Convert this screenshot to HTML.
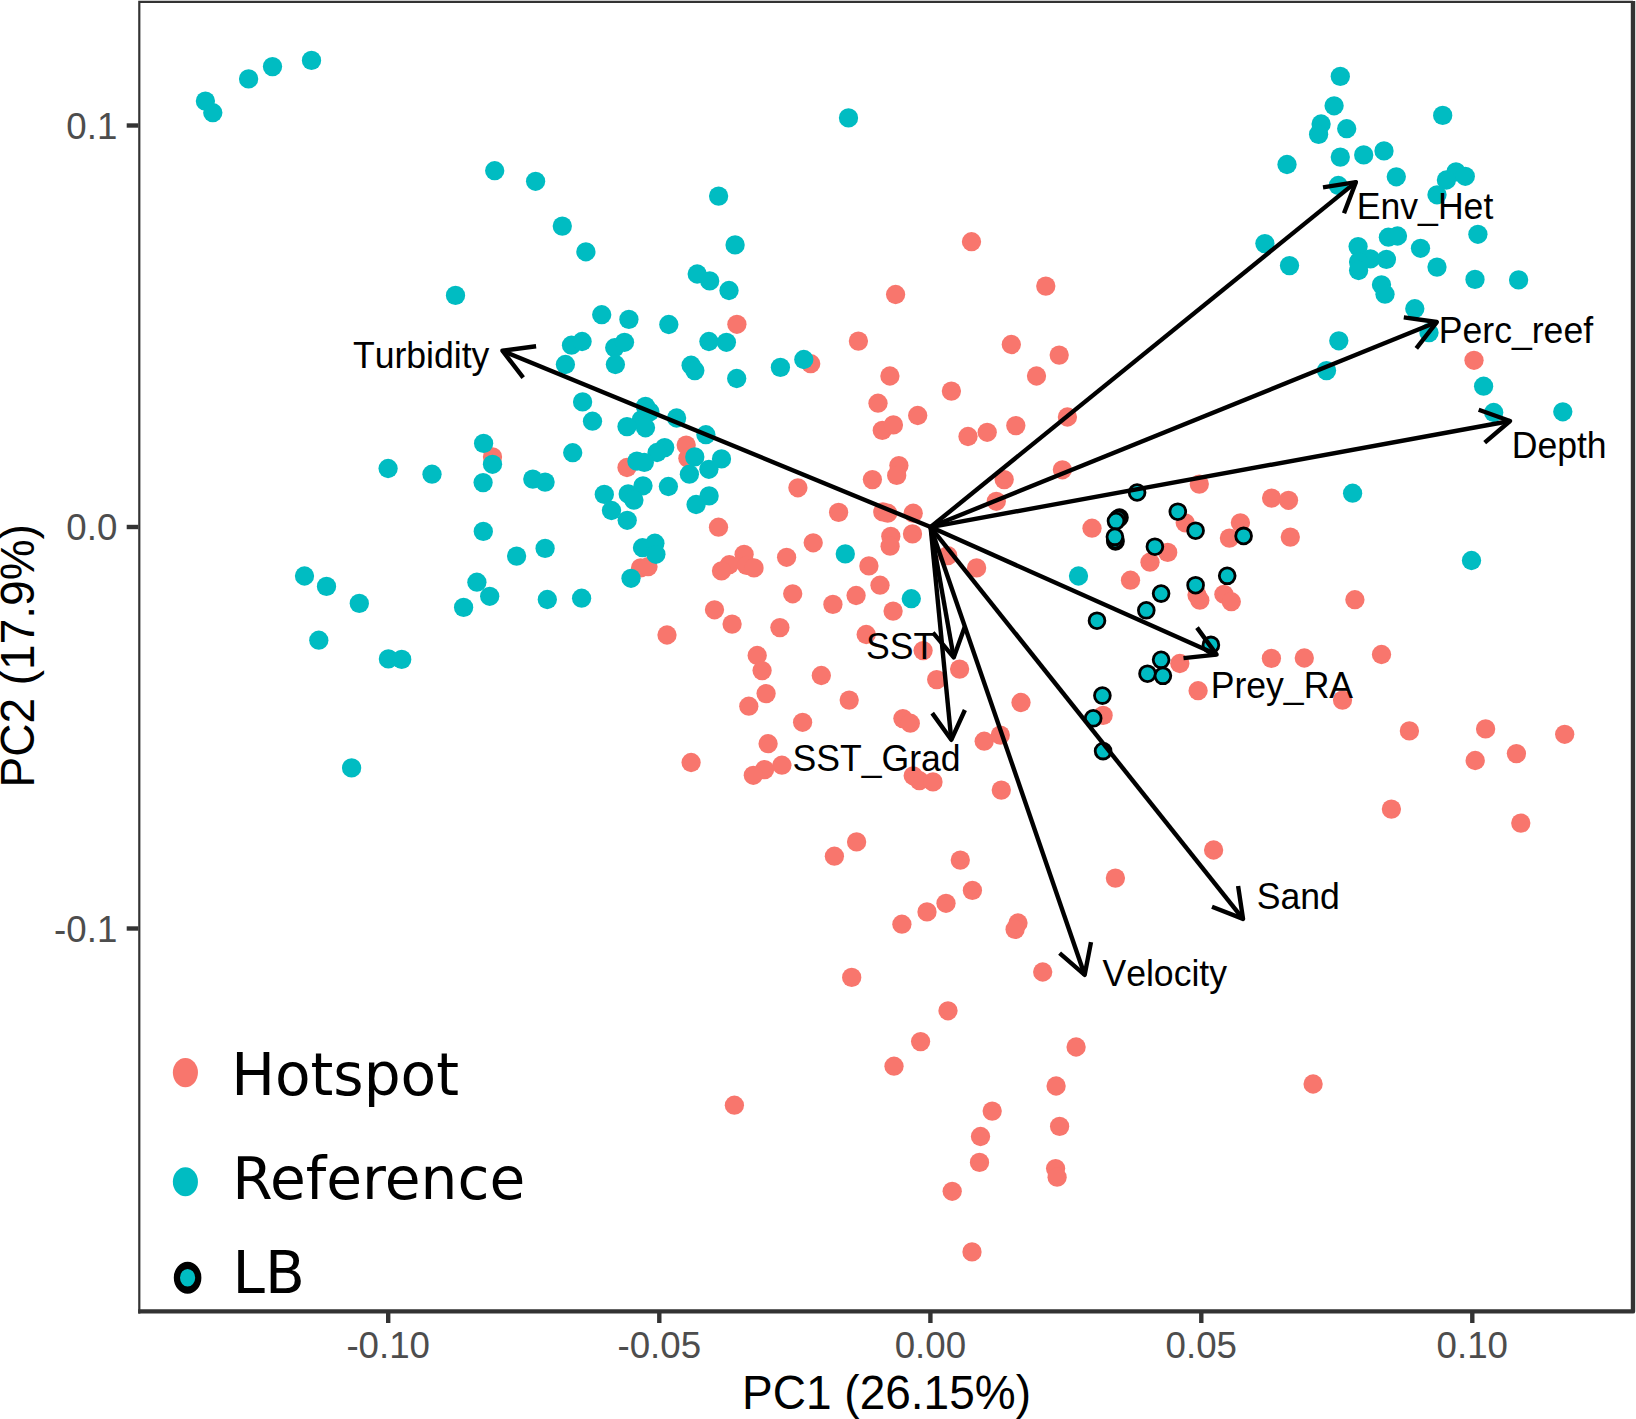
<!DOCTYPE html>
<html><head><meta charset="utf-8"><title>PCA biplot</title>
<style>
html,body{margin:0;padding:0;background:#fff;}
svg{display:block;}
text{font-family:"Liberation Sans",sans-serif;font-kerning:none;}
.ax{fill:#4d4d4d;font-size:36.7px;}
.ti{fill:#000;font-size:46px;}
.lb{fill:#000;font-size:35.6px;}
.lg{font-kerning:normal;fill:#000;font-size:58.2px;font-family:"DejaVu Sans","Liberation Sans",sans-serif;}
</style></head><body>
<svg width="1636" height="1419" viewBox="0 0 1636 1419">
<rect x="0" y="0" width="1636" height="1419" fill="#ffffff"/>

<g fill="#F8766D">
<circle cx="736.9" cy="324.3" r="9.65"/>
<circle cx="971.5" cy="241.7" r="9.65"/>
<circle cx="895.6" cy="294.5" r="9.65"/>
<circle cx="1045.8" cy="286.1" r="9.65"/>
<circle cx="858.4" cy="341.1" r="9.65"/>
<circle cx="1011.3" cy="344.5" r="9.65"/>
<circle cx="1059.2" cy="355.1" r="9.65"/>
<circle cx="492.5" cy="456.9" r="9.65"/>
<circle cx="810.7" cy="363.7" r="9.65"/>
<circle cx="889.9" cy="376.0" r="9.65"/>
<circle cx="878.0" cy="403.2" r="9.65"/>
<circle cx="882.3" cy="430.4" r="9.65"/>
<circle cx="893.4" cy="424.9" r="9.65"/>
<circle cx="686.2" cy="445.1" r="9.65"/>
<circle cx="687.9" cy="458.2" r="9.65"/>
<circle cx="627.0" cy="467.5" r="9.65"/>
<circle cx="797.9" cy="487.8" r="9.65"/>
<circle cx="872.4" cy="479.6" r="9.65"/>
<circle cx="838.6" cy="512.4" r="9.65"/>
<circle cx="882.8" cy="511.9" r="9.65"/>
<circle cx="887.7" cy="513.2" r="9.65"/>
<circle cx="718.5" cy="527.2" r="9.65"/>
<circle cx="813.2" cy="542.8" r="9.65"/>
<circle cx="890.8" cy="536.3" r="9.65"/>
<circle cx="890.1" cy="546.2" r="9.65"/>
<circle cx="640.6" cy="567.9" r="9.65"/>
<circle cx="648.0" cy="566.7" r="9.65"/>
<circle cx="744.1" cy="554.3" r="9.65"/>
<circle cx="729.3" cy="564.7" r="9.65"/>
<circle cx="721.5" cy="570.9" r="9.65"/>
<circle cx="746.6" cy="565.4" r="9.65"/>
<circle cx="754.0" cy="567.9" r="9.65"/>
<circle cx="786.6" cy="557.3" r="9.65"/>
<circle cx="868.9" cy="565.9" r="9.65"/>
<circle cx="880.0" cy="585.2" r="9.65"/>
<circle cx="792.7" cy="593.8" r="9.65"/>
<circle cx="856.1" cy="595.5" r="9.65"/>
<circle cx="832.9" cy="604.4" r="9.65"/>
<circle cx="893.1" cy="611.1" r="9.65"/>
<circle cx="714.5" cy="609.8" r="9.65"/>
<circle cx="732.1" cy="624.1" r="9.65"/>
<circle cx="779.9" cy="627.6" r="9.65"/>
<circle cx="667.0" cy="635.0" r="9.65"/>
<circle cx="866.2" cy="634.5" r="9.65"/>
<circle cx="757.2" cy="655.5" r="9.65"/>
<circle cx="762.1" cy="670.6" r="9.65"/>
<circle cx="821.3" cy="675.5" r="9.65"/>
<circle cx="1036.5" cy="376.0" r="9.65"/>
<circle cx="951.4" cy="391.1" r="9.65"/>
<circle cx="917.7" cy="415.5" r="9.65"/>
<circle cx="1067.4" cy="417.0" r="9.65"/>
<circle cx="1015.8" cy="425.6" r="9.65"/>
<circle cx="987.2" cy="432.3" r="9.65"/>
<circle cx="968.0" cy="436.5" r="9.65"/>
<circle cx="898.9" cy="465.6" r="9.65"/>
<circle cx="896.7" cy="475.4" r="9.65"/>
<circle cx="1062.4" cy="469.8" r="9.65"/>
<circle cx="1004.2" cy="479.6" r="9.65"/>
<circle cx="996.3" cy="501.3" r="9.65"/>
<circle cx="1199.3" cy="484.1" r="9.65"/>
<circle cx="1271.6" cy="498.1" r="9.65"/>
<circle cx="913.2" cy="513.2" r="9.65"/>
<circle cx="912.5" cy="533.9" r="9.65"/>
<circle cx="1092.0" cy="528.2" r="9.65"/>
<circle cx="1185.2" cy="522.8" r="9.65"/>
<circle cx="1240.4" cy="522.8" r="9.65"/>
<circle cx="1229.4" cy="538.1" r="9.65"/>
<circle cx="1167.7" cy="552.4" r="9.65"/>
<circle cx="1150.0" cy="562.2" r="9.65"/>
<circle cx="947.7" cy="555.6" r="9.65"/>
<circle cx="976.6" cy="567.9" r="9.65"/>
<circle cx="1130.5" cy="580.2" r="9.65"/>
<circle cx="1197.0" cy="595.1" r="9.65"/>
<circle cx="1199.8" cy="600.2" r="9.65"/>
<circle cx="1223.9" cy="594.3" r="9.65"/>
<circle cx="1231.3" cy="601.7" r="9.65"/>
<circle cx="923.1" cy="650.6" r="9.65"/>
<circle cx="959.6" cy="669.1" r="9.65"/>
<circle cx="1179.8" cy="663.5" r="9.65"/>
<circle cx="1271.4" cy="658.4" r="9.65"/>
<circle cx="1474.0" cy="360.3" r="9.65"/>
<circle cx="1288.5" cy="500.3" r="9.65"/>
<circle cx="1290.3" cy="537.1" r="9.65"/>
<circle cx="1354.9" cy="599.7" r="9.65"/>
<circle cx="1304.3" cy="658.0" r="9.65"/>
<circle cx="1381.5" cy="654.5" r="9.65"/>
<circle cx="766.1" cy="693.6" r="9.65"/>
<circle cx="748.8" cy="706.2" r="9.65"/>
<circle cx="849.2" cy="700.1" r="9.65"/>
<circle cx="802.6" cy="722.3" r="9.65"/>
<circle cx="768.1" cy="743.7" r="9.65"/>
<circle cx="691.1" cy="762.5" r="9.65"/>
<circle cx="781.9" cy="765.2" r="9.65"/>
<circle cx="764.6" cy="769.6" r="9.65"/>
<circle cx="753.3" cy="775.3" r="9.65"/>
<circle cx="856.6" cy="841.9" r="9.65"/>
<circle cx="834.4" cy="856.2" r="9.65"/>
<circle cx="851.7" cy="977.4" r="9.65"/>
<circle cx="936.7" cy="679.6" r="9.65"/>
<circle cx="1021.0" cy="702.5" r="9.65"/>
<circle cx="902.9" cy="718.6" r="9.65"/>
<circle cx="910.3" cy="723.2" r="9.65"/>
<circle cx="984.2" cy="741.2" r="9.65"/>
<circle cx="1000.3" cy="735.1" r="9.65"/>
<circle cx="913.2" cy="775.8" r="9.65"/>
<circle cx="919.4" cy="780.7" r="9.65"/>
<circle cx="933.0" cy="781.9" r="9.65"/>
<circle cx="1001.3" cy="790.1" r="9.65"/>
<circle cx="960.3" cy="860.1" r="9.65"/>
<circle cx="972.4" cy="890.4" r="9.65"/>
<circle cx="946.0" cy="903.3" r="9.65"/>
<circle cx="927.0" cy="911.9" r="9.65"/>
<circle cx="901.9" cy="924.2" r="9.65"/>
<circle cx="1018.0" cy="923.0" r="9.65"/>
<circle cx="1015.1" cy="929.4" r="9.65"/>
<circle cx="1042.7" cy="972.0" r="9.65"/>
<circle cx="1115.4" cy="878.1" r="9.65"/>
<circle cx="1213.6" cy="850.0" r="9.65"/>
<circle cx="1198.1" cy="690.7" r="9.65"/>
<circle cx="1103.1" cy="715.4" r="9.65"/>
<circle cx="1342.5" cy="700.1" r="9.65"/>
<circle cx="1409.4" cy="730.9" r="9.65"/>
<circle cx="1485.6" cy="728.9" r="9.65"/>
<circle cx="1564.7" cy="734.3" r="9.65"/>
<circle cx="1516.4" cy="753.6" r="9.65"/>
<circle cx="1475.2" cy="760.5" r="9.65"/>
<circle cx="1391.4" cy="809.1" r="9.65"/>
<circle cx="1520.8" cy="823.1" r="9.65"/>
<circle cx="948.0" cy="1010.8" r="9.65"/>
<circle cx="920.6" cy="1041.6" r="9.65"/>
<circle cx="894.0" cy="1066.2" r="9.65"/>
<circle cx="734.4" cy="1105.2" r="9.65"/>
<circle cx="992.2" cy="1111.1" r="9.65"/>
<circle cx="980.5" cy="1136.5" r="9.65"/>
<circle cx="979.5" cy="1162.4" r="9.65"/>
<circle cx="952.2" cy="1191.3" r="9.65"/>
<circle cx="972.0" cy="1251.9" r="9.65"/>
<circle cx="1076.1" cy="1047.0" r="9.65"/>
<circle cx="1056.1" cy="1086.0" r="9.65"/>
<circle cx="1059.6" cy="1126.4" r="9.65"/>
<circle cx="1055.6" cy="1168.6" r="9.65"/>
<circle cx="1057.1" cy="1177.2" r="9.65"/>
<circle cx="1313.1" cy="1084.0" r="9.65"/>
</g>
<g fill="#00BCC2">
<circle cx="205.4" cy="101.1" r="9.65"/>
<circle cx="212.8" cy="112.7" r="9.65"/>
<circle cx="248.6" cy="78.9" r="9.65"/>
<circle cx="272.5" cy="66.6" r="9.65"/>
<circle cx="311.5" cy="60.4" r="9.65"/>
<circle cx="494.7" cy="170.7" r="9.65"/>
<circle cx="535.6" cy="181.3" r="9.65"/>
<circle cx="562.3" cy="226.1" r="9.65"/>
<circle cx="585.9" cy="251.8" r="9.65"/>
<circle cx="455.5" cy="295.4" r="9.65"/>
<circle cx="718.6" cy="196.1" r="9.65"/>
<circle cx="735.1" cy="244.9" r="9.65"/>
<circle cx="697.2" cy="274.0" r="9.65"/>
<circle cx="709.7" cy="280.9" r="9.65"/>
<circle cx="729.0" cy="290.5" r="9.65"/>
<circle cx="601.7" cy="314.7" r="9.65"/>
<circle cx="628.9" cy="319.4" r="9.65"/>
<circle cx="668.8" cy="324.5" r="9.65"/>
<circle cx="848.5" cy="117.9" r="9.65"/>
<circle cx="1340.3" cy="76.4" r="9.65"/>
<circle cx="1334.1" cy="105.8" r="9.65"/>
<circle cx="1321.1" cy="124.0" r="9.65"/>
<circle cx="1318.6" cy="134.4" r="9.65"/>
<circle cx="1346.7" cy="128.7" r="9.65"/>
<circle cx="1442.7" cy="115.4" r="9.65"/>
<circle cx="1340.3" cy="157.1" r="9.65"/>
<circle cx="1363.7" cy="154.9" r="9.65"/>
<circle cx="1384.0" cy="150.9" r="9.65"/>
<circle cx="1287.0" cy="164.5" r="9.65"/>
<circle cx="1396.3" cy="176.8" r="9.65"/>
<circle cx="1338.3" cy="185.5" r="9.65"/>
<circle cx="1456.0" cy="171.9" r="9.65"/>
<circle cx="1465.3" cy="176.3" r="9.65"/>
<circle cx="1446.4" cy="180.0" r="9.65"/>
<circle cx="1437.0" cy="194.8" r="9.65"/>
<circle cx="1477.9" cy="234.3" r="9.65"/>
<circle cx="1264.9" cy="243.6" r="9.65"/>
<circle cx="1289.5" cy="265.6" r="9.65"/>
<circle cx="1388.4" cy="237.2" r="9.65"/>
<circle cx="1397.5" cy="236.0" r="9.65"/>
<circle cx="1358.1" cy="246.6" r="9.65"/>
<circle cx="1420.5" cy="248.3" r="9.65"/>
<circle cx="1370.4" cy="258.9" r="9.65"/>
<circle cx="1386.4" cy="259.4" r="9.65"/>
<circle cx="1358.6" cy="261.9" r="9.65"/>
<circle cx="1358.6" cy="270.5" r="9.65"/>
<circle cx="1437.0" cy="267.1" r="9.65"/>
<circle cx="1475.0" cy="279.4" r="9.65"/>
<circle cx="1518.6" cy="279.9" r="9.65"/>
<circle cx="1381.5" cy="284.8" r="9.65"/>
<circle cx="1385.0" cy="294.2" r="9.65"/>
<circle cx="1414.8" cy="308.7" r="9.65"/>
<circle cx="1429.0" cy="332.7" r="9.65"/>
<circle cx="1338.8" cy="340.8" r="9.65"/>
<circle cx="483.6" cy="443.4" r="9.65"/>
<circle cx="492.5" cy="464.3" r="9.65"/>
<circle cx="388.1" cy="468.5" r="9.65"/>
<circle cx="432.0" cy="474.2" r="9.65"/>
<circle cx="483.1" cy="482.6" r="9.65"/>
<circle cx="483.3" cy="531.4" r="9.65"/>
<circle cx="516.6" cy="556.1" r="9.65"/>
<circle cx="304.5" cy="576.0" r="9.65"/>
<circle cx="326.5" cy="586.4" r="9.65"/>
<circle cx="359.3" cy="603.4" r="9.65"/>
<circle cx="476.9" cy="582.2" r="9.65"/>
<circle cx="489.7" cy="596.3" r="9.65"/>
<circle cx="463.6" cy="607.4" r="9.65"/>
<circle cx="318.8" cy="640.2" r="9.65"/>
<circle cx="388.4" cy="658.9" r="9.65"/>
<circle cx="401.7" cy="659.4" r="9.65"/>
<circle cx="571.5" cy="345.2" r="9.65"/>
<circle cx="582.1" cy="341.5" r="9.65"/>
<circle cx="614.7" cy="347.7" r="9.65"/>
<circle cx="624.5" cy="342.3" r="9.65"/>
<circle cx="708.9" cy="341.5" r="9.65"/>
<circle cx="726.4" cy="342.3" r="9.65"/>
<circle cx="565.4" cy="364.5" r="9.65"/>
<circle cx="615.4" cy="364.5" r="9.65"/>
<circle cx="691.1" cy="365.2" r="9.65"/>
<circle cx="694.8" cy="370.6" r="9.65"/>
<circle cx="736.7" cy="378.5" r="9.65"/>
<circle cx="780.4" cy="367.4" r="9.65"/>
<circle cx="803.8" cy="359.5" r="9.65"/>
<circle cx="582.6" cy="401.9" r="9.65"/>
<circle cx="592.5" cy="421.2" r="9.65"/>
<circle cx="645.5" cy="406.4" r="9.65"/>
<circle cx="649.9" cy="411.8" r="9.65"/>
<circle cx="641.3" cy="419.9" r="9.65"/>
<circle cx="627.0" cy="426.6" r="9.65"/>
<circle cx="645.5" cy="427.8" r="9.65"/>
<circle cx="676.6" cy="418.0" r="9.65"/>
<circle cx="705.9" cy="434.7" r="9.65"/>
<circle cx="572.7" cy="452.7" r="9.65"/>
<circle cx="664.7" cy="447.6" r="9.65"/>
<circle cx="657.1" cy="452.5" r="9.65"/>
<circle cx="636.9" cy="461.1" r="9.65"/>
<circle cx="644.3" cy="462.4" r="9.65"/>
<circle cx="694.8" cy="456.9" r="9.65"/>
<circle cx="721.5" cy="458.9" r="9.65"/>
<circle cx="708.9" cy="469.3" r="9.65"/>
<circle cx="689.4" cy="474.2" r="9.65"/>
<circle cx="532.8" cy="479.1" r="9.65"/>
<circle cx="545.1" cy="482.1" r="9.65"/>
<circle cx="643.0" cy="485.8" r="9.65"/>
<circle cx="668.4" cy="486.5" r="9.65"/>
<circle cx="604.3" cy="494.4" r="9.65"/>
<circle cx="628.2" cy="493.9" r="9.65"/>
<circle cx="633.9" cy="500.1" r="9.65"/>
<circle cx="709.1" cy="495.9" r="9.65"/>
<circle cx="696.1" cy="504.5" r="9.65"/>
<circle cx="611.5" cy="510.5" r="9.65"/>
<circle cx="627.2" cy="520.3" r="9.65"/>
<circle cx="845.3" cy="553.9" r="9.65"/>
<circle cx="545.1" cy="548.4" r="9.65"/>
<circle cx="642.5" cy="547.7" r="9.65"/>
<circle cx="654.9" cy="543.2" r="9.65"/>
<circle cx="655.9" cy="554.3" r="9.65"/>
<circle cx="631.0" cy="578.3" r="9.65"/>
<circle cx="547.3" cy="599.5" r="9.65"/>
<circle cx="581.6" cy="598.2" r="9.65"/>
<circle cx="1078.5" cy="576.0" r="9.65"/>
<circle cx="911.3" cy="598.7" r="9.65"/>
<circle cx="1326.5" cy="370.6" r="9.65"/>
<circle cx="1483.6" cy="386.2" r="9.65"/>
<circle cx="1493.7" cy="412.5" r="9.65"/>
<circle cx="1562.8" cy="411.8" r="9.65"/>
<circle cx="1352.6" cy="493.2" r="9.65"/>
<circle cx="1471.5" cy="560.5" r="9.65"/>
<circle cx="351.6" cy="767.9" r="9.65"/>
</g>
<g fill="#00BCC2" stroke="#000" stroke-width="2.8">
<circle cx="1137.1" cy="492.5" r="7.9"/>
<circle cx="1177.8" cy="511.7" r="7.9"/>
<circle cx="1119.5" cy="517.6" r="7.9"/>
<circle cx="1117.8" cy="518.8" r="7.9"/>
<circle cx="1116.0" cy="521.1" r="7.9"/>
<circle cx="1195.6" cy="530.7" r="7.9"/>
<circle cx="1243.6" cy="535.9" r="7.9"/>
<circle cx="1115.5" cy="541.5" r="7.9"/>
<circle cx="1115.2" cy="540.0" r="7.9"/>
<circle cx="1114.9" cy="536.8" r="7.9"/>
<circle cx="1154.9" cy="546.7" r="7.9"/>
<circle cx="1227.2" cy="575.8" r="7.9"/>
<circle cx="1195.6" cy="585.2" r="7.9"/>
<circle cx="1161.1" cy="593.6" r="7.9"/>
<circle cx="1146.3" cy="610.3" r="7.9"/>
<circle cx="1097.0" cy="620.7" r="7.9"/>
<circle cx="1210.9" cy="644.9" r="7.9"/>
<circle cx="1161.1" cy="659.8" r="7.9"/>
<circle cx="1147.5" cy="673.7" r="7.9"/>
<circle cx="1162.9" cy="675.8" r="7.9"/>
<circle cx="1102.4" cy="695.6" r="7.9"/>
<circle cx="1093.2" cy="718.3" r="7.9"/>
<circle cx="1103.1" cy="751.1" r="7.9"/>
</g>
<g fill="none" stroke="#000" stroke-width="4.4" stroke-linejoin="round">
<path d="M930.6 527.05L1355.89 182.09"/>
<path d="M1344.0 213.2L1355.89 182.09L1323.0 187.3"/>
<path d="M930.6 527.05L1436.81 322.03"/>
<path d="M1416.3 348.3L1436.81 322.03L1403.8 317.4"/>
<path d="M930.6 527.05L1510.04 421.0"/>
<path d="M1484.7 442.6L1510.04 421.0L1478.7 409.8"/>
<path d="M930.6 527.05L1216.59 654.6"/>
<path d="M1183.5 658.1L1216.59 654.6L1197.0 627.6"/>
<path d="M930.6 527.05L1243.03 918.88"/>
<path d="M1212.0 906.7L1243.03 918.88L1238.1 886.0"/>
<path d="M930.6 527.05L1084.68 974.92"/>
<path d="M1059.6 953.1L1084.68 974.92L1091.0 942.2"/>
<path d="M930.6 527.05L951.29 739.81"/>
<path d="M932.2 713.1L951.29 739.81L964.9 710.0"/>
<path d="M930.6 527.05L953.72 657.43"/>
<path d="M932.9 632.7L953.72 657.43L964.7 627.1"/>
<path d="M930.6 527.05L502.43 350.74"/>
<path d="M536.1 346.2L502.43 350.74L523.2 377.7"/>
</g>
<text class="lb" transform="translate(1356.8 219.0) scale(1 1.03)">Env_Het</text>
<text class="lb" transform="translate(1438.8 342.6) scale(1 1.03)">Perc_reef</text>
<text class="lb" transform="translate(1511.7 457.9) scale(1 1.03)">Depth</text>
<text class="lb" transform="translate(1210.7 697.5) scale(1 1.03)">Prey_RA</text>
<text class="lb" transform="translate(1256.8 908.6) scale(1 1.03)">Sand</text>
<text class="lb" transform="translate(1102.4 985.9) scale(1 1.03)">Velocity</text>
<text class="lb" transform="translate(792.5 771.4) scale(1 1.03)">SST_Grad</text>
<text class="lb" transform="translate(866.0 659.1) scale(1 1.03)">SST</text>
<text class="lb" transform="translate(352.9 368.1) scale(1 1.03)">Turbidity</text>
<g stroke="#333333" fill="none">
<path d="M139.3 1313.6V1.95H1633" stroke-width="2.2" stroke-linejoin="miter"/>
<path d="M138.2 1311.4H1633V1" stroke-width="4.4" stroke-linejoin="round"/>
<path d="M126.7 125.5H138.3" stroke-width="4.4"/>
<path d="M126.7 527.0H138.3" stroke-width="4.4"/>
<path d="M126.7 928.5H138.3" stroke-width="4.4"/>
<path d="M388.2 1311.4V1323" stroke-width="4.4"/>
<path d="M659.3 1311.4V1323" stroke-width="4.4"/>
<path d="M930.4 1311.4V1323" stroke-width="4.4"/>
<path d="M1201.3 1311.4V1323" stroke-width="4.4"/>
<path d="M1472.3 1311.4V1323" stroke-width="4.4"/>
</g>
<text class="ax" text-anchor="end" transform="translate(117.3 138.9) scale(1 1.03)">0.1</text>
<text class="ax" text-anchor="end" transform="translate(117.3 540.4) scale(1 1.03)">0.0</text>
<text class="ax" text-anchor="end" transform="translate(117.3 941.9) scale(1 1.03)">-0.1</text>
<text class="ax" text-anchor="middle" transform="translate(388.2 1358.4) scale(1 1.03)">-0.10</text>
<text class="ax" text-anchor="middle" transform="translate(659.3 1358.4) scale(1 1.03)">-0.05</text>
<text class="ax" text-anchor="middle" transform="translate(930.4 1358.4) scale(1 1.03)">0.00</text>
<text class="ax" text-anchor="middle" transform="translate(1201.3 1358.4) scale(1 1.03)">0.05</text>
<text class="ax" text-anchor="middle" transform="translate(1472.3 1358.4) scale(1 1.03)">0.10</text>
<text class="ti" text-anchor="middle" transform="translate(886.5 1409.2) scale(1 1.03)">PC1 (26.15%)</text>
<text class="ti" text-anchor="middle" transform="translate(33.9 655.8) rotate(-90) scale(1 1.03)">PC2 (17.9%)</text>
<ellipse cx="185.4" cy="1072.6" rx="12.55" ry="14.55" fill="#F8766D"/>
<ellipse cx="185.4" cy="1181.7" rx="12.55" ry="14.55" fill="#00BCC2"/>
<g transform="translate(187.6 1277.7) scale(1 1.157)"><circle r="10.7" fill="#00BCC2" stroke="#000" stroke-width="6.2"/></g>
<text class="lg" x="231.2" y="1095.1">Hotspot</text>
<text class="lg" x="232.2" y="1199.3">Reference</text>
<text class="lg" x="232.5" y="1293.0">LB</text>
</svg></body></html>
